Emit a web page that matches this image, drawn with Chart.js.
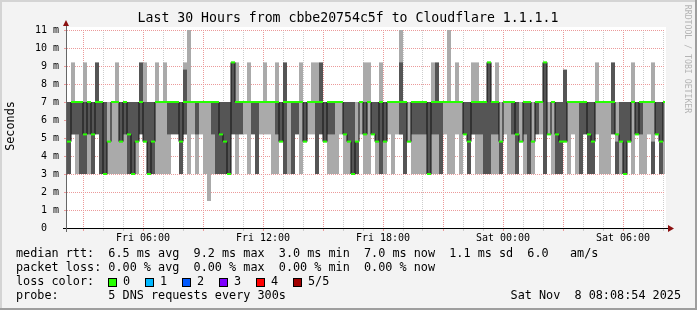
<!DOCTYPE html>
<html>
<head>
<meta charset="utf-8">
<script src="https://cdn.jsdelivr.net/npm/chart.js@4.4.1/dist/chart.umd.min.js"></script>
<style>
  html, body { margin: 0; padding: 0; background: #f3f3f3; }
  canvas { display: block; }
</style>
</head>
<body>
<canvas id="myChart" width="697" height="310"></canvas>
<script>
// time axis: hours since Fri 00:00, one column = 12 minutes
const startHour = 2.2;
const endHour = 32.1;
const colStep = 0.2;

// smoke: light = outer pings, dark = inner pings (ms)
const lightLow = [
  null, 5.2, 3, null, 3, 3, null, null, null, null, 3, 3, 3, 3, 3, null, null, 3, null, 4.8, null, null, 3, 3, 3,
  3, null, null, null, 5.2, 3, 5.2, 3, 5.2, 3, 1.5, 3, null, null, null, null, null, 3, null, 5.2, 3, null, null, 5.2, 5.2,
  5.2, 3, 3, null, null, 3, null, null, 3, null, 5.2, 5.2, 3, null, null, 3, 3, 3, 5.2, 3, 3, null, 3, 5.2, 3,
  3, null, 3, 3, 3, 5.2, 3, 5.2, 5.2, null, 4.8, 3, 3, 3, 3, null, 3, 3, null, 5.2, 3, 3, 5.2, 3, null,
  null, 5.2, 3, 3, null, null, 3, 3, 3, 5.2, 3, 3, null, 4.8, 3, null, 3, null, 5.2, null, 5.2, 3, null, null, null,
  3, 5.2, 3, null, null, null, null, 5.2, 3, 3, 3, null, 3, 3, null, null, 3, null, 3, 3, 5.2, 3, null, null, 3
];
const lightHigh = [
  null, 9.2, 7, null, 9.2, 7, null, null, null, null, 7, 7, 9.2, 7, 7, null, null, 7, null, 9.2, null, null, 9.2, 7, 9.2,
  7, null, null, null, 9.2, 11, 7, 7, 7, 7, 7, 7, null, null, null, null, null, 9.2, null, 7, 9.2, null, null, 7, 9.2,
  7, 7, 9.2, null, null, 7, null, null, 9.2, null, 7, 9.2, 9.2, null, null, 7, 7, 7, 7, 7, 7, null, 7, 7, 9.2,
  9.2, null, 7, 9.2, 7, 7, 7, 7, 11.1, null, 7, 7, 7, 7, 7, null, 9.2, 7, null, 7, 11, 7, 9.2, 7, null,
  null, 9.2, 9.2, 7, null, null, 7, 9.2, 7, 7, 7, 7, null, 7, 7, null, 7, null, 7, null, 7, 7, null, null, null,
  7, 7, 7, null, null, null, null, 9.2, 7, 7, 7, null, 7, 7, null, null, 9.2, null, 7, 7, 7, 9.2, null, null, 7
];
const darkLow = [
  3, 5.2, 5.2, 3, 3, 5.2, 3, 5.2, 3, 3, null, null, null, 4.8, 5.2, 3, 3, 4.8, 5.2, 4.8, 3, 3, null, null, null,
  5.2, 5.2, 5.2, 3, 5.2, null, null, 5.2, null, null, null, 5.2, 3, 3, 3, 3, 5.2, 5.2, 5.2, null, null, 5.2, 3, null, null,
  null, null, 5.2, 4.8, 3, null, 3, 5.2, null, 4.8, null, null, 3, 5.2, 4.8, 5.2, 5.2, null, null, 5.2, 4.8, 3, 3, null, 5.2,
  null, 5.2, 4.8, 3, 4.8, null, null, null, 5.2, 3, null, 5.2, 5.2, 5.2, 5.2, 3, 5.2, 5.2, 3, null, null, null, null, null, 5.2,
  3, 5.2, 5.2, 5.2, 3, 3, 5.2, 5.2, 3, null, null, 5.2, 3, null, 5.2, 3, null, 5.2, null, 3, null, null, 3, 3, 4.8,
  null, null, null, 3, 5.2, 3, 3, null, null, null, null, 5.2, 3, 4.8, 3, 4.8, null, 5.2, 5.2, null, null, 3, 5.2, 3, null
];
const darkHigh = [
  7, 7, 7, 7, 7, 7, 7, 9.2, 7, 7, null, null, null, 7, 7, 7, 7, 7, 9.2, 7, 7, 7, null, null, null,
  7, 7, 7, 7, 8.8, null, null, 7, null, null, null, 7, 7, 7, 7, 7, 9.2, 7, 7, null, null, 7, 7, null, null,
  null, null, 7, 7, 9.2, null, 7, 7, null, 7, null, null, 7, 9.2, 7, 7, 7, null, null, 7, 7, 7, 4.8, null, 7,
  null, 7, 7, 7, 7, null, null, null, 9.2, 7, null, 7, 7, 7, 7, 7, 7, 9.2, 7, null, null, null, null, null, 7,
  7, 7, 7, 7, 7, 9.2, 7, 7, 4.8, null, null, 7, 7, null, 7, 7, null, 7, null, 9.2, null, null, 7, 7, 8.8,
  null, null, null, 7, 7, 7, 7, null, null, null, null, 9.2, 4.8, 7, 7, 7, null, 7, 7, null, null, 4.8, 7, 7, null
];
const medianRtt = [
  4.8, 7, 7, 7, 5.2, 7, 5.2, 7, 7, 3.0, 4.8, 7, 7, 4.8, 7, 5.2, 3.0, 4.8, 7, 4.8, 3.0, 4.8, 7, 7, 7,
  7, 7, 7, 4.8, 7, 7, 7, 7, 7, 7, 7, 7, 7, 5.2, 4.8, 3.0, 9.2, 7, 7, 7, 7, 7, 7, 7, 7,
  7, 7, 7, 4.8, 7, 7, 7, 7, 7, 4.8, 7, 7, 7, 7, 4.8, 7, 7, 7, 7, 5.2, 4.8, 3.0, 4.8, 7, 5.2,
  7, 5.2, 4.8, 7, 4.8, 7, 7, 7, 7, 7, 4.8, 7, 7, 7, 7, 3.0, 7, 7, 7, 7, 7, 7, 7, 7, 5.2,
  4.8, 7, 7, 7, 7, 9.2, 7, 7, 4.8, 7, 7, 7, 5.2, 4.8, 7, 7, 4.8, 7, 7, 9.2, 5.2, 7, 5.2, 4.8, 4.8,
  7, 7, 7, 7, 7, 5.2, 4.8, 7, 7, 7, 7, 7, 5.2, 4.8, 3.0, 4.8, 7, 5.2, 7, 7, 7, 7, 5.2, 4.8, 7
];

// axis ticks
const xGridHours = [3, 4, 5, 6, 7, 8, 9, 10, 11, 12, 13, 14, 15, 16, 17, 18, 19, 20, 21, 22, 23, 24, 25, 26, 27, 28, 29, 30, 31, 32];
const xLabelHours = [6, 12, 18, 24, 30];
const xLabels = ['Fri 06:00', 'Fri 12:00', 'Fri 18:00', 'Sat 00:00', 'Sat 06:00'];
const yTicks = [0, 0.5, 1, 1.5, 2, 2.5, 3, 3.5, 4, 4.5, 5, 5.5, 6, 6.5, 7, 7.5, 8, 8.5, 9, 9.5, 10, 10.5, 11];

// texts
const title = 'Last 30 Hours from cbbe20754c5f to Cloudflare 1.1.1.1';
const legendRtt = 'median rtt:  6.5 ms avg  9.2 ms max  3.0 ms min  7.0 ms now  1.1 ms sd  6.0   am/s';
const legendLoss = 'packet loss: 0.00 % avg  0.00 % max  0.00 % min  0.00 % now';
const legendProbe = 'probe:       5 DNS requests every 300s';
const stamp = 'Sat Nov  8 08:08:54 2025';
const lossLabels = ['0', '1', '2', '3', '4', '5/5'];
const lossColors = ['#26ff00', '#00b8ff', '#0059ff', '#7e00ff', '#ff0000', '#a00000'];

const colHour = medianRtt.map((_, i) => startHour + colStep * (i + 0.5));

function bandPoints(lo, hi) {
  const pts = [];
  lo.forEach((v, i) => {
    if (v !== null && hi[i] !== null) pts.push({ x: colHour[i], y: [v, hi[i]] });
  });
  return pts;
}
const medianPts = medianRtt.map((v, i) => ({ x: colHour[i], y: v }));

const monoFont = '"DejaVu Sans Mono", monospace';

// 배경, 축, 범례 글자
const rrdDecor = {
  id: 'rrdDecor',
  beforeDraw(chart) {
    const { ctx, chartArea: a, width, height } = chart;
    ctx.save();
    ctx.fillStyle = '#f3f3f3';
    ctx.fillRect(0, 0, width, height);
    ctx.fillStyle = '#d4d4d4';
    ctx.fillRect(0, 0, width, 2);
    ctx.fillRect(0, 0, 2, height);
    ctx.fillStyle = '#9e9e9e';
    ctx.fillRect(0, height - 2, width, 2);
    ctx.fillRect(width - 2, 0, 2, height);
    ctx.fillStyle = '#ffffff';
    ctx.fillRect(a.left, a.top - 3, a.right - a.left + 1, a.bottom - a.top + 3);
    ctx.restore();
  },
  afterDraw(chart) {
    const { ctx, chartArea: a } = chart;
    ctx.save();
    // axes
    ctx.fillStyle = '#000';
    ctx.fillRect(63, a.bottom, a.right - 63 + 4, 1);
    ctx.fillStyle = '#666';
    ctx.fillRect(a.left - 1, 25, 1, a.bottom + 4 - 25);
    ctx.fillStyle = '#8b1010';
    ctx.beginPath();
    ctx.moveTo(a.left - 4, 26); ctx.lineTo(a.left + 2, 26); ctx.lineTo(a.left - 1, 20);
    ctx.closePath(); ctx.fill();
    ctx.beginPath();
    ctx.moveTo(a.right + 3, a.bottom - 3); ctx.lineTo(a.right + 3, a.bottom + 4); ctx.lineTo(a.right + 9, a.bottom + 0.5);
    ctx.closePath(); ctx.fill();

    // title
    ctx.fillStyle = '#000';
    ctx.font = '13.2px ' + monoFont;
    ctx.textAlign = 'center';
    ctx.textBaseline = 'middle';
    ctx.fillText(title, 348, 19);

    // y label
    ctx.save();
    ctx.translate(11, 126);
    ctx.rotate(-Math.PI / 2);
    ctx.font = '11.8px ' + monoFont;
    ctx.fillText('Seconds', 0, 0);
    ctx.restore();

    // watermark
    ctx.save();
    ctx.translate(687, 59);
    ctx.rotate(Math.PI / 2);
    ctx.font = '8.2px ' + monoFont;
    ctx.fillStyle = '#b4b4b4';
    ctx.fillText('RRDTOOL / TOBI OETIKER', 0, 0);
    ctx.restore();

    // legend
    ctx.font = '11.8px ' + monoFont;
    ctx.textAlign = 'left';
    ctx.fillStyle = '#000';
    ctx.fillText(legendRtt, 16, 254);
    ctx.fillText(legendLoss, 16, 268);
    ctx.fillText('loss color:', 16, 282);
    ctx.fillText(legendProbe, 16, 296);
    lossLabels.forEach((t, k) => {
      const bx = 108 + 37 * k;
      ctx.fillStyle = lossColors[k];
      ctx.fillRect(bx, 278, 9, 9);
      ctx.strokeStyle = '#000';
      ctx.lineWidth = 1;
      ctx.strokeRect(bx + 0.5, 278.5, 8, 8);
      ctx.fillStyle = '#000';
      ctx.fillText(t, bx + 15, 282);
    });
    ctx.textAlign = 'right';
    ctx.fillText(stamp, 681, 296);
    ctx.restore();
  }
};

const redDot = '#eb9a9a';
const grayDot = '#cdcdcd';

const ctx = document.getElementById('myChart').getContext('2d');
const myChart = new Chart(ctx, {
  type: 'bar',
  data: {
    datasets: [
      {
        label: 'outer',
        data: bandPoints(lightLow, lightHigh),
        backgroundColor: '#aaaaaa',
        borderWidth: 0,
        barThickness: 4,
        grouped: false,
        inflateAmount: 0,
        order: 4
      },
      {
        label: 'inner',
        data: bandPoints(darkLow, darkHigh),
        backgroundColor: '#555555',
        borderWidth: 0,
        barThickness: 4,
        grouped: false,
        inflateAmount: 0,
        order: 3
      },
      {
        type: 'line',
        label: 'median step',
        data: medianPts,
        borderColor: '#111',
        borderWidth: 1,
        stepped: 'middle',
        pointRadius: 0,
        order: 2
      },
      {
        type: 'line',
        label: 'median',
        data: medianPts,
        showLine: false,
        pointStyle: 'line',
        pointRadius: 2,
        pointBorderWidth: 2,
        pointBorderColor: '#26ff00',
        order: 1
      }
    ]
  },
  options: {
    responsive: false,
    animation: false,
    devicePixelRatio: 1,
    layout: { padding: { top: 30, right: 32, left: 0, bottom: 0 } },
    plugins: {
      legend: { display: false },
      tooltip: { enabled: false }
    },
    scales: {
      x: {
        type: 'linear',
        min: startHour,
        max: endHour,
        offset: false,
        grid: {
          offset: false,
          color: c => (c.tick && c.tick.value % 3 === 0 ? redDot : grayDot),
          tickColor: c => (c.tick && c.tick.value % 3 === 0 ? redDot : grayDot),
          tickLength: 3
        },
        border: { display: false, dash: [1, 1] },
        ticks: {
          autoSkip: false,
          maxRotation: 0,
          padding: 1,
          color: '#000',
          font: { family: monoFont, size: 10 },
          callback: v => {
            const k = xLabelHours.indexOf(v);
            return k >= 0 ? xLabels[k] : '';
          }
        },
        afterBuildTicks: s => { s.ticks = xGridHours.map(v => ({ value: v })); },
        afterFit: s => { s.height = 82; }
      },
      y: {
        min: 0,
        max: 11,
        grid: {
          color: c => {
            if (!c.tick || c.tick.value === 0) return 'rgba(0,0,0,0)';
            return Number.isInteger(c.tick.value) ? redDot : grayDot;
          },
          tickColor: c => (c.tick && Number.isInteger(c.tick.value) ? redDot : grayDot),
          tickLength: 3
        },
        border: { display: false, dash: [1, 1] },
        ticks: {
          padding: 5,
          color: '#000',
          font: { family: monoFont, size: 10 },
          callback: v => (v === 0 ? '0  ' : Number.isInteger(v) ? v + ' m' : '')
        },
        afterBuildTicks: s => { s.ticks = yTicks.map(v => ({ value: v })); },
        afterFit: s => { s.width = 67; }
      }
    }
  },
  plugins: [rrdDecor]
});
</script>
</body>
</html>
